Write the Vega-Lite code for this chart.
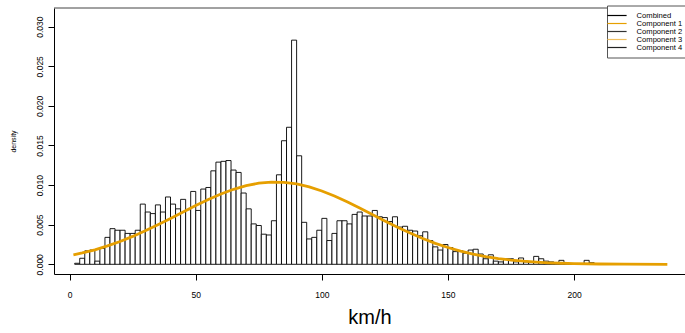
{
  "$schema": "https://vega.github.io/schema/vega-lite/v6.json",
  "autosize": "none",
  "padding": {"left": 54, "top": 8, "right": 0, "bottom": 59},
  "width": 631,
  "height": 266,
  "background": "white",
  "config": {
    "view": {"stroke": null},
    "font": "Liberation Sans",
    "axis": {"grid": false, "domainColor": "black", "tickColor": "black", "labelColor": "black", "titleColor": "black", "titleFontWeight": "normal"}
  },
  "datasets": {
    "bars": [
      {"x0": 2, "x1": 4, "d": 0.00013}, {"x0": 4, "x1": 6, "d": 0.00076}, {"x0": 6, "x1": 8, "d": 0.0017}, {"x0": 8, "x1": 10, "d": 0.0018},
      {"x0": 10, "x1": 12, "d": 0.0004}, {"x0": 12, "x1": 14, "d": 0.002}, {"x0": 14, "x1": 16, "d": 0.0034}, {"x0": 16, "x1": 18, "d": 0.0045},
      {"x0": 18, "x1": 20, "d": 0.0043}, {"x0": 20, "x1": 22, "d": 0.0043}, {"x0": 22, "x1": 24, "d": 0.0039}, {"x0": 24, "x1": 26, "d": 0.0039},
      {"x0": 26, "x1": 28, "d": 0.0043}, {"x0": 28, "x1": 30, "d": 0.0076}, {"x0": 30, "x1": 32, "d": 0.0066}, {"x0": 32, "x1": 34, "d": 0.0064},
      {"x0": 34, "x1": 36, "d": 0.0075}, {"x0": 36, "x1": 38, "d": 0.0066}, {"x0": 38, "x1": 40, "d": 0.0085}, {"x0": 40, "x1": 42, "d": 0.0076},
      {"x0": 42, "x1": 44, "d": 0.007}, {"x0": 44, "x1": 46, "d": 0.0082}, {"x0": 46, "x1": 48, "d": 0.0069}, {"x0": 48, "x1": 50, "d": 0.0092},
      {"x0": 50, "x1": 52, "d": 0.0068}, {"x0": 52, "x1": 54, "d": 0.0095}, {"x0": 54, "x1": 56, "d": 0.0097}, {"x0": 56, "x1": 58, "d": 0.0118},
      {"x0": 58, "x1": 60, "d": 0.0129}, {"x0": 60, "x1": 62, "d": 0.013}, {"x0": 62, "x1": 64, "d": 0.0131}, {"x0": 64, "x1": 66, "d": 0.0119},
      {"x0": 66, "x1": 68, "d": 0.0116}, {"x0": 68, "x1": 70, "d": 0.009}, {"x0": 70, "x1": 72, "d": 0.007}, {"x0": 72, "x1": 74, "d": 0.0051},
      {"x0": 74, "x1": 76, "d": 0.0049}, {"x0": 76, "x1": 78, "d": 0.0038}, {"x0": 78, "x1": 80, "d": 0.0037}, {"x0": 80, "x1": 82, "d": 0.0055},
      {"x0": 82, "x1": 84, "d": 0.0113}, {"x0": 84, "x1": 86, "d": 0.0156}, {"x0": 86, "x1": 88, "d": 0.0173}, {"x0": 88, "x1": 90, "d": 0.0283},
      {"x0": 90, "x1": 92, "d": 0.0137}, {"x0": 92, "x1": 94, "d": 0.0053}, {"x0": 94, "x1": 96, "d": 0.0032}, {"x0": 96, "x1": 98, "d": 0.0034},
      {"x0": 98, "x1": 100, "d": 0.0043}, {"x0": 100, "x1": 102, "d": 0.0058}, {"x0": 102, "x1": 104, "d": 0.003}, {"x0": 104, "x1": 106, "d": 0.0039},
      {"x0": 106, "x1": 108, "d": 0.0055}, {"x0": 108, "x1": 110, "d": 0.0055}, {"x0": 110, "x1": 112, "d": 0.0051}, {"x0": 112, "x1": 114, "d": 0.0063},
      {"x0": 114, "x1": 116, "d": 0.0066}, {"x0": 116, "x1": 118, "d": 0.0061}, {"x0": 118, "x1": 120, "d": 0.0061}, {"x0": 120, "x1": 122, "d": 0.0068},
      {"x0": 122, "x1": 124, "d": 0.006}, {"x0": 124, "x1": 126, "d": 0.0059}, {"x0": 126, "x1": 128, "d": 0.0054}, {"x0": 128, "x1": 130, "d": 0.006},
      {"x0": 130, "x1": 132, "d": 0.0047}, {"x0": 132, "x1": 134, "d": 0.0048}, {"x0": 134, "x1": 136, "d": 0.0043}, {"x0": 136, "x1": 138, "d": 0.0042},
      {"x0": 138, "x1": 140, "d": 0.0036}, {"x0": 140, "x1": 142, "d": 0.0041}, {"x0": 142, "x1": 144, "d": 0.003}, {"x0": 144, "x1": 146, "d": 0.0022},
      {"x0": 146, "x1": 148, "d": 0.0018}, {"x0": 148, "x1": 150, "d": 0.0025}, {"x0": 150, "x1": 152, "d": 0.0021}, {"x0": 152, "x1": 154, "d": 0.0016},
      {"x0": 154, "x1": 156, "d": 0.0017}, {"x0": 156, "x1": 158, "d": 0.0014}, {"x0": 158, "x1": 160, "d": 0.0018}, {"x0": 160, "x1": 162, "d": 0.0019},
      {"x0": 162, "x1": 164, "d": 0.0013}, {"x0": 164, "x1": 166, "d": 0.0007}, {"x0": 166, "x1": 168, "d": 0.0012}, {"x0": 168, "x1": 170, "d": 0.0004},
      {"x0": 170, "x1": 172, "d": 0.0003}, {"x0": 172, "x1": 174, "d": 0.0007}, {"x0": 174, "x1": 176, "d": 0.0007}, {"x0": 176, "x1": 178, "d": 0.0003},
      {"x0": 178, "x1": 180, "d": 0.0008}, {"x0": 180, "x1": 182, "d": 0.0003}, {"x0": 182, "x1": 184, "d": 0.0003}, {"x0": 184, "x1": 186, "d": 0.001},
      {"x0": 186, "x1": 188, "d": 0.0007}, {"x0": 188, "x1": 190, "d": 0.0004}, {"x0": 190, "x1": 192, "d": 0.0003}, {"x0": 192, "x1": 194, "d": 0.0002},
      {"x0": 194, "x1": 196, "d": 0.0005}, {"x0": 196, "x1": 198, "d": 0.0002}, {"x0": 198, "x1": 200, "d": 0.0001}, {"x0": 200, "x1": 202, "d": 0.0001},
      {"x0": 202, "x1": 204, "d": 0.0001}, {"x0": 204, "x1": 206, "d": 0.0005}, {"x0": 206, "x1": 208, "d": 0.0002}, {"x0": 208, "x1": 210, "d": 0.0001}
    ],
    "curve": [
      {"x": 1.5, "d": 0.00119, "series": "Component 1"}, {"x": 5, "d": 0.00143, "series": "Component 1"}, {"x": 10, "d": 0.00183, "series": "Component 1"},
      {"x": 15, "d": 0.00232, "series": "Component 1"}, {"x": 20, "d": 0.00288, "series": "Component 1"}, {"x": 25, "d": 0.00352, "series": "Component 1"},
      {"x": 30, "d": 0.00423, "series": "Component 1"}, {"x": 35, "d": 0.00499, "series": "Component 1"}, {"x": 40, "d": 0.00579, "series": "Component 1"},
      {"x": 45, "d": 0.00661, "series": "Component 1"}, {"x": 50, "d": 0.00742, "series": "Component 1"}, {"x": 55, "d": 0.00819, "series": "Component 1"},
      {"x": 60, "d": 0.00888, "series": "Component 1"}, {"x": 65, "d": 0.00947, "series": "Component 1"}, {"x": 70, "d": 0.00993, "series": "Component 1"},
      {"x": 75, "d": 0.01024, "series": "Component 1"}, {"x": 80, "d": 0.01038, "series": "Component 1"}, {"x": 85, "d": 0.01035, "series": "Component 1"},
      {"x": 90, "d": 0.01014, "series": "Component 1"}, {"x": 95, "d": 0.00977, "series": "Component 1"}, {"x": 100, "d": 0.00925, "series": "Component 1"},
      {"x": 105, "d": 0.00862, "series": "Component 1"}, {"x": 110, "d": 0.00789, "series": "Component 1"}, {"x": 115, "d": 0.0071, "series": "Component 1"},
      {"x": 120, "d": 0.00628, "series": "Component 1"}, {"x": 125, "d": 0.00547, "series": "Component 1"}, {"x": 130, "d": 0.00468, "series": "Component 1"},
      {"x": 135, "d": 0.00394, "series": "Component 1"}, {"x": 140, "d": 0.00326, "series": "Component 1"}, {"x": 145, "d": 0.00265, "series": "Component 1"},
      {"x": 150, "d": 0.00212, "series": "Component 1"}, {"x": 155, "d": 0.00166, "series": "Component 1"}, {"x": 160, "d": 0.00129, "series": "Component 1"},
      {"x": 165, "d": 0.00098, "series": "Component 1"}, {"x": 170, "d": 0.00073, "series": "Component 1"}, {"x": 175, "d": 0.00054, "series": "Component 1"},
      {"x": 180, "d": 0.00039, "series": "Component 1"}, {"x": 185, "d": 0.00028, "series": "Component 1"}, {"x": 190, "d": 0.00019, "series": "Component 1"},
      {"x": 195, "d": 0.00013, "series": "Component 1"}, {"x": 200, "d": 0.00009, "series": "Component 1"}, {"x": 210, "d": 0.00004, "series": "Component 1"},
      {"x": 220, "d": 0.00001, "series": "Component 1"}, {"x": 237, "d": 0.0, "series": "Component 1"}
    ]
  },
  "layer": [
    {
      "data": {"name": "bars"},
      "mark": {"type": "rect", "fill": "white", "stroke": "black", "strokeWidth": 0.9},
      "encoding": {
        "x": {"field": "x0", "type": "quantitative", "scale": {"domain": [-6.2, 244], "nice": false, "zero": false},
          "axis": {"values": [0, 50, 100, 150, 200], "title": "km/h", "titleFontSize": 20, "titlePadding": 9, "labelFontSize": 8.5, "tickSize": 6, "labelPadding": 10}},
        "x2": {"field": "x1"},
        "y": {"field": "d", "type": "quantitative", "scale": {"domain": [-0.001225, 0.03236], "nice": false, "zero": false},
          "axis": {"values": [0, 0.005, 0.01, 0.015, 0.02, 0.025, 0.03], "format": ".3f", "title": "density", "titleFontSize": 7, "titlePadding": 19,
            "labelFontSize": 8.5, "labelAngle": -90, "labelAlign": "center", "labelBaseline": "alphabetic", "tickSize": 6, "labelPadding": 6}},
        "y2": {"datum": 0}
      }
    },
    {
      "data": {"name": "curve"},
      "mark": {"type": "line", "strokeWidth": 2.8},
      "encoding": {
        "x": {"field": "x", "type": "quantitative"},
        "y": {"field": "d", "type": "quantitative"},
        "color": {"field": "series", "type": "nominal",
          "scale": {"domain": ["Combined", "Component 1", "Component 2", "Component 3", "Component 4"], "range": ["#000000", "#E69F00", "#333333", "#F0C060", "#222222"]},
          "legend": {"title": null, "orient": "none", "legendX": 553, "legendY": -2.5, "symbolType": "M-3.2,0H3.2", "symbolSize": 36, "symbolStrokeWidth": 1.2,
            "labelFontSize": 7.6, "labelOffset": 15.6, "rowPadding": -0.7, "padding": 6, "strokeColor": "#555555", "fillColor": "white", "labelColor": "black"}}
      }
    },
    {
      "data": {"values": [{}]},
      "mark": {"type": "rule", "color": "#444444", "strokeWidth": 1},
      "encoding": {"y": {"datum": 0.03236}}
    }
  ]
}
